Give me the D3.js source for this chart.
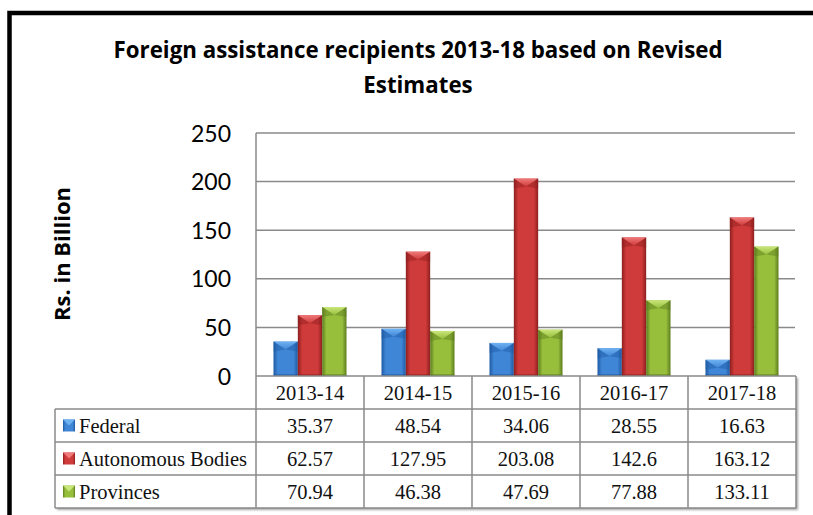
<!DOCTYPE html>
<html>
<head>
<meta charset="utf-8">
<script src="https://cdn.jsdelivr.net/npm/d3@7"></script>
<style>
  html, body { margin: 0; padding: 0; background: #fff; }
  svg { display: block; }
</style>
</head>
<body>
<svg id="chart" width="813" height="515"></svg>
<script>
// ---- data ----
const years = ["2013-14", "2014-15", "2015-16", "2016-17", "2017-18"];
const seriesNames = ["Federal", "Autonomous Bodies", "Provinces"];
const federal = [35.37, 48.54, 34.06, 28.55, 16.63];
const autonomous = [62.57, 127.95, 203.08, 142.6, 163.12];
const provinces = [70.94, 46.38, 47.69, 77.88, 133.11];
const yTicks = [0, 50, 100, 150, 200, 250];
const titleLines = ["Foreign assistance recipients 2013-18 based on Revised", "Estimates"];
const yAxisTitle = "Rs. in Billion";

const seriesValues = [federal, autonomous, provinces];
const palette = [
  { dark: "#1f5aa3", mid: "#3f86d6", light: "#6fb2f2" },
  { dark: "#8e1f1f", mid: "#cf3a3a", light: "#f07a7a" },
  { dark: "#5d7d1e", mid: "#97bf3c", light: "#c9e67a" }
];

const svg = d3.select("#chart");
const defs = svg.append("defs");

// horizontal shading for the bevelled bars
palette.forEach((c, i) => {
  const g = defs.append("linearGradient").attr("id", "barGrad" + i)
    .attr("x1", "0%").attr("x2", "100%").attr("y1", "0%").attr("y2", "0%");
  g.append("stop").attr("offset", "0%").attr("stop-color", c.dark);
  g.append("stop").attr("offset", "18%").attr("stop-color", c.mid);
  g.append("stop").attr("offset", "50%").attr("stop-color", c.mid);
  g.append("stop").attr("offset", "82%").attr("stop-color", c.mid);
  g.append("stop").attr("offset", "100%").attr("stop-color", c.dark);
  const t = defs.append("linearGradient").attr("id", "topGrad" + i)
    .attr("x1", "0%").attr("x2", "0%").attr("y1", "0%").attr("y2", "100%");
  t.append("stop").attr("offset", "0%").attr("stop-color", c.light);
  t.append("stop").attr("offset", "100%").attr("stop-color", c.mid);
});

const shadow = defs.append("filter").attr("id", "tblShadow")
  .attr("x", "-5%").attr("y", "-5%").attr("width", "115%").attr("height", "130%");
shadow.append("feDropShadow").attr("dx", 2).attr("dy", 2).attr("stdDeviation", 1.2)
  .attr("flood-color", "#000").attr("flood-opacity", 0.35);

// ---- frame ----
svg.append("rect").attr("x", 9.5).attr("y", 13).attr("width", 830).attr("height", 540)
  .attr("fill", "none").attr("stroke", "#000").attr("stroke-width", 4.5);

// ---- title ----
const boldFont = "'Open Sans', Lato, sans-serif";
const title = svg.append("text")
  .attr("text-anchor", "middle")
  .attr("font-family", boldFont)
  .attr("font-weight", "bold")
  .attr("font-size", 22.3)
  .attr("fill", "#000");
titleLines.forEach((l, i) => {
  title.append("tspan").attr("x", 418).attr("y", 58 + i * 35).text(l);
});

// ---- scales ----
const plotLeft = 256, plotRight = 796, plotTop = 133, plotBottom = 376;
const x = d3.scaleBand().domain(years).range([plotLeft, plotRight]);
const y = d3.scaleLinear().domain([0, 250]).range([plotBottom, plotTop]);
const groupW = 73;
const xs = d3.scaleBand().domain(seriesNames).range([0, groupW]);

// ---- gridlines ----
const grid = svg.append("g");
grid.selectAll("line").data(yTicks.filter(d => d > 0)).join("line")
  .attr("x1", plotLeft).attr("x2", plotRight - 1)
  .attr("y1", d => y(d)).attr("y2", d => y(d))
  .attr("stroke", "#8a8a8a").attr("stroke-width", 1.5);
svg.append("line").attr("x1", plotLeft).attr("x2", plotLeft)
  .attr("y1", plotTop).attr("y2", plotBottom)
  .attr("stroke", "#8a8a8a").attr("stroke-width", 1.5);

// ---- y axis ----
const yAxis = d3.axisLeft(y).tickValues(yTicks).tickSize(0).tickPadding(0);
const yG = svg.append("g").attr("transform", `translate(${plotLeft - 25},0)`).call(yAxis);
yG.select(".domain").remove();
yG.selectAll("text")
  .attr("font-family", "Lato, 'Open Sans', sans-serif")
  .attr("font-size", 23)
  .attr("fill", "#000")
  .attr("dy", "0.35em");

svg.append("text")
  .attr("transform", `translate(70,254) rotate(-90)`)
  .attr("text-anchor", "middle")
  .attr("font-family", boldFont)
  .attr("font-weight", "bold")
  .attr("font-size", 22)
  .attr("fill", "#000")
  .text(yAxisTitle);

// ---- bars ----
const bars = svg.append("g");
seriesValues.forEach((vals, si) => {
  const g = bars.append("g");
  const sel = g.selectAll("g.bar").data(years.map((yr, i) => ({ yr, v: vals[i] }))).join("g").attr("class", "bar");
  sel.each(function (d) {
    const gx = x(d.yr) + (x.bandwidth() - groupW) / 2 + xs(seriesNames[si]);
    const w = xs.bandwidth();
    const top = y(d.v), bot = y(0);
    const h = bot - top;
    const b = d3.select(this);
    b.append("rect").attr("x", gx).attr("y", top).attr("width", w).attr("height", h)
      .attr("fill", `url(#barGrad${si})`);
    // bevelled top facet
    const tip = Math.min(8, h);
    b.append("path")
      .attr("d", `M${gx},${top} L${gx + w},${top} L${gx + w / 2},${top + tip} Z`)
      .attr("fill", `url(#topGrad${si})`);
    // darker side facets
    b.append("path")
      .attr("d", `M${gx},${top} L${gx + w / 2},${top + tip} L${gx},${top + tip + 2} Z`)
      .attr("fill", palette[si].dark).attr("opacity", 0.45);
    b.append("path")
      .attr("d", `M${gx + w},${top} L${gx + w / 2},${top + tip} L${gx + w},${top + tip + 2} Z`)
      .attr("fill", palette[si].dark).attr("opacity", 0.45);
    b.append("rect").attr("x", gx).attr("y", bot - 2).attr("width", w).attr("height", 2)
      .attr("fill", palette[si].dark).attr("opacity", 0.5);
  });
});

// ---- data table ----
const rowTop = plotBottom, headerH = 33, rowH = 33;
const tableLeft = 55;
const serif = "'Liberation Serif', 'Times New Roman', serif";
const tbl = svg.append("g");
const gridStroke = "#8a8a8a";

// background + shadow for the table outline
tbl.append("path")
  .attr("d", `M${plotLeft},${rowTop} H${plotRight} V${rowTop + headerH + 3 * rowH} H${tableLeft} V${rowTop + headerH} H${plotLeft} Z`)
  .attr("fill", "#fff").attr("filter", "url(#tblShadow)");

// horizontal rules
const hLines = [0, 1, 2, 3].map(i => rowTop + headerH + i * rowH);
tbl.selectAll("line.h").data(hLines).join("line").attr("class", "h")
  .attr("x1", tableLeft).attr("x2", plotRight)
  .attr("y1", d => d).attr("y2", d => d)
  .attr("stroke", gridStroke).attr("stroke-width", 1.5);
tbl.append("line").attr("x1", plotLeft).attr("x2", plotRight)
  .attr("y1", rowTop).attr("y2", rowTop)
  .attr("stroke", gridStroke).attr("stroke-width", 1.5);

// vertical rules
const vLines = years.map(yr => x(yr)).concat([plotRight]);
tbl.selectAll("line.v").data(vLines).join("line").attr("class", "v")
  .attr("x1", d => d).attr("x2", d => d)
  .attr("y1", rowTop).attr("y2", rowTop + headerH + 3 * rowH)
  .attr("stroke", gridStroke).attr("stroke-width", 1.5);
tbl.append("line").attr("x1", tableLeft).attr("x2", tableLeft)
  .attr("y1", rowTop + headerH).attr("y2", rowTop + headerH + 3 * rowH)
  .attr("stroke", gridStroke).attr("stroke-width", 1.5);

// header labels
tbl.selectAll("text.hdr").data(years).join("text").attr("class", "hdr")
  .attr("x", d => x(d) + x.bandwidth() / 2)
  .attr("y", rowTop + headerH / 2)
  .attr("dy", "0.35em")
  .attr("text-anchor", "middle")
  .attr("font-family", serif).attr("font-size", 20.5).attr("fill", "#111")
  .text(d => d);

// series rows
seriesNames.forEach((name, si) => {
  const cy = rowTop + headerH + si * rowH + rowH / 2;
  const kx = 63, ks = 12;
  tbl.append("rect").attr("x", kx).attr("y", cy - ks / 2).attr("width", ks).attr("height", ks)
    .attr("fill", `url(#barGrad${si})`);
  tbl.append("path")
    .attr("d", `M${kx},${cy - ks / 2} L${kx + ks},${cy - ks / 2} L${kx + ks / 2},${cy} Z`)
    .attr("fill", palette[si].light);
  tbl.append("text")
    .attr("x", kx + ks + 4).attr("y", cy).attr("dy", "0.35em")
    .attr("font-family", serif).attr("font-size", 20.5).attr("fill", "#111")
    .text(name);
  tbl.selectAll(null).data(seriesValues[si]).join("text")
    .attr("x", (d, i) => x(years[i]) + x.bandwidth() / 2)
    .attr("y", cy).attr("dy", "0.35em")
    .attr("text-anchor", "middle")
    .attr("font-family", serif).attr("font-size", 20.5).attr("fill", "#111")
    .text(d => d);
});
</script>
</body>
</html>
